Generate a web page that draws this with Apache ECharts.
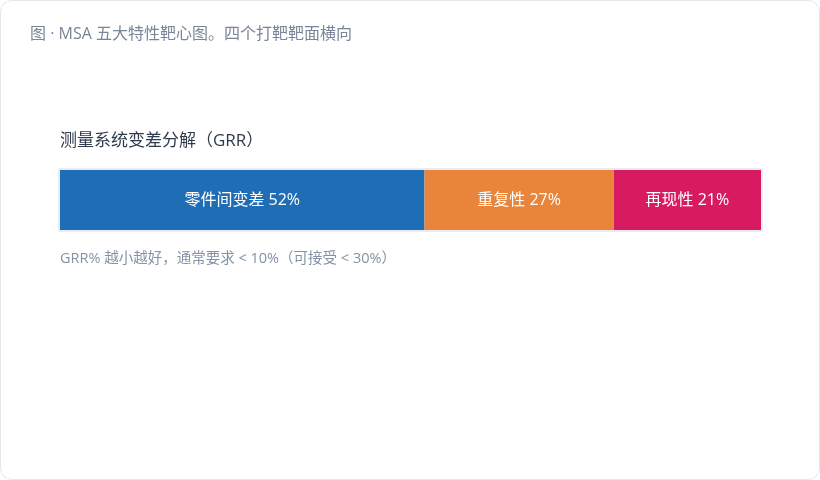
<!DOCTYPE html>
<html>
<head>
<meta charset="utf-8">
<script src="https://cdn.jsdelivr.net/npm/echarts@6/dist/echarts.min.js"></script>
<style>
  html, body { margin: 0; padding: 0; background: #fff; }
  #card {
    width: 818px; height: 478px;
    border: 1px solid #e3e7ee; border-radius: 12px;
    background: #fff; overflow: hidden;
  }
  #chart { width: 818px; height: 478px; }
</style>
</head>
<body>
<div id="card"><div id="chart"></div></div>
<script>
// GRR breakdown
const parts = ['零件间变差', '重复性', '再现性']
const shares = [52, 27, 21]
const palette = ['#1f6eb5', '#e8853a', '#d81b60']

const font = '"Open Sans", "Noto Sans CJK SC", sans-serif'
const chart = echarts.init(document.getElementById('chart'))

const series = parts.map((name, i) => ({
  name: name,
  type: 'bar',
  stack: 'grr',
  barWidth: 60,
  data: [shares[i]],
  itemStyle: { color: palette[i] },
  label: {
    show: true,
    position: 'inside',
    color: '#fff',
    fontSize: 16,
    fontFamily: font,
    formatter: (p) => p.seriesName + ' ' + p.value + '%',
  },
  emphasis: { disabled: true },
}))

chart.setOption({
  animation: false,
  title: [
    {
      text: '图 · MSA 五大特性靶心图。四个打靶靶面横向',
      left: 24, top: 20,
      textStyle: { fontSize: 16, fontWeight: 'normal', color: '#7a8597', fontFamily: font },
    },
    {
      text: '测量系统变差分解（GRR）',
      left: 54, top: 127,
      textStyle: { fontSize: 17, fontWeight: 'normal', color: '#2f3b4c', fontFamily: font },
    },
    {
      text: 'GRR% 越小越好，通常要求 < 10%（可接受 < 30%）',
      left: 54, top: 246,
      textStyle: { fontSize: 14.5, fontWeight: 'normal', color: '#8592a6', fontFamily: font },
    },
  ],
  grid: [
    { left: 59, top: 169, width: 701, height: 60 },
    {
      left: 58, top: 168, width: 703, height: 62,
      show: true, borderColor: '#d3dbe6', borderWidth: 1, backgroundColor: 'transparent',
    },
  ],
  xAxis: [
    { type: 'value', min: 0, max: 100, show: false, gridIndex: 0 },
    { type: 'value', min: 0, max: 100, show: false, gridIndex: 1 },
  ],
  yAxis: [
    { type: 'category', data: ['GRR'], show: false, gridIndex: 0 },
    { type: 'category', data: ['GRR'], show: false, gridIndex: 1 },
  ],
  series: series,
})
</script>
</body>
</html>
